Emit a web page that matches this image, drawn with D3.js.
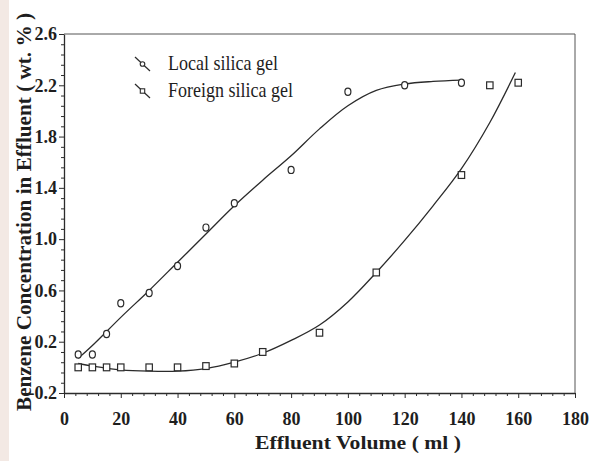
<!DOCTYPE html>
<html>
<head>
<meta charset="utf-8">
<script src="https://cdn.jsdelivr.net/npm/d3@7"></script>
<style>
  body { margin: 0; background: #fff; }
  svg { display: block; }
  text { font-family: "Liberation Serif", "Times New Roman", serif; fill: #1e1e1e; }
</style>
</head>
<body>
<div id="root"></div>
<script>
// measured points
const localX = [5, 10, 15, 20, 30, 40, 50, 60, 80, 100, 120, 140];
const localY = [0.10, 0.10, 0.26, 0.50, 0.58, 0.79, 1.09, 1.28, 1.54, 2.15, 2.20, 2.22];
const foreignX = [5, 10, 15, 20, 30, 40, 50, 60, 70, 90, 110, 140, 150, 160];
const foreignY = [0.0, 0.0, 0.0, 0.0, 0.0, 0.0, 0.01, 0.03, 0.12, 0.27, 0.74, 1.50, 2.20, 2.22];

// fitted curves as drawn in the figure
const localFitX = [5, 10, 20, 30, 40, 50, 60, 70, 80, 90, 100, 110, 120, 130, 140];
const localFitY = [0.07, 0.17, 0.39, 0.60, 0.82, 1.04, 1.26, 1.46, 1.65, 1.86, 2.04, 2.16, 2.21, 2.23, 2.24];
const foreignFitX = [5, 10, 20, 30, 40, 50, 60, 70, 80, 90, 100, 110, 120, 130, 140, 150, 159];
const foreignFitY = [0.03, 0.01, -0.02, -0.03, -0.03, -0.01, 0.04, 0.11, 0.21, 0.33, 0.51, 0.74, 0.99, 1.26, 1.55, 1.91, 2.30];

const xTicks = [0, 20, 40, 60, 80, 100, 120, 140, 160, 180];
const xTickLabels = ["0", "20", "40", "60", "80", "100", "120", "140", "160", "180"];
const yTicks = [-0.2, 0.2, 0.6, 1.0, 1.4, 1.8, 2.2, 2.6];
const yTickLabels = ["-0.2", "0.2", "0.6", "1.0", "1.4", "1.8", "2.2", "2.6"];
const seriesNames = ["Local silica gel", "Foreign silica gel"];

const width = 594, height = 461;
const plotLeft = 64, plotRight = 575, plotTop = 34, plotBottom = 393;
const ink = "#2b2b2b";

const svg = d3.select("#root").append("svg")
  .attr("width", width)
  .attr("height", height);

// faint scan edge on the left
svg.append("rect").attr("x", 0).attr("y", 0).attr("width", 9).attr("height", height)
  .attr("fill", "#f3e9e4");

const x = d3.scaleLinear().domain([0, 180]).range([plotLeft, plotRight]);
const y = d3.scaleLinear().domain([-0.2, 2.6]).range([plotBottom, plotTop]);

// minor ticks
const xMinor = d3.range(0, 181, 4).filter(v => v % 20 !== 0);
const yMinor = d3.range(-0.2, 2.6, 0.08).map(v => +v.toFixed(2)).filter(v => !yTicks.some(t => Math.abs(t - v) < 1e-6));

svg.append("g")
  .attr("transform", `translate(0,${plotBottom})`)
  .call(d3.axisBottom(x).tickValues(xMinor).tickSize(3).tickFormat(""))
  .call(g => g.select(".domain").remove())
  .selectAll("line").attr("stroke", ink);

svg.append("g")
  .attr("transform", `translate(${plotLeft},0)`)
  .call(d3.axisLeft(y).tickValues(yMinor).tickSize(3).tickFormat(""))
  .call(g => g.select(".domain").remove())
  .selectAll("line").attr("stroke", ink);

const xAxis = svg.append("g")
  .attr("transform", `translate(0,${plotBottom})`)
  .call(d3.axisBottom(x).tickValues(xTicks).tickSizeInner(5).tickSizeOuter(0).tickPadding(14)
    .tickFormat((d, i) => xTickLabels[i]));
xAxis.select(".domain").attr("stroke", ink).attr("stroke-width", 1.3);
xAxis.selectAll("line").attr("stroke", ink);
xAxis.selectAll("text")
  .attr("font-family", "Liberation Serif")
  .style("font-size", "18px")
  .style("font-weight", "bold")
  .attr("fill", "#1e1e1e");

const yAxis = svg.append("g")
  .attr("transform", `translate(${plotLeft},0)`)
  .call(d3.axisLeft(y).tickValues(yTicks).tickSizeInner(5).tickSizeOuter(0).tickPadding(2)
    .tickFormat((d, i) => yTickLabels[i]));
yAxis.select(".domain").attr("stroke", ink).attr("stroke-width", 1.3);
yAxis.selectAll("line").attr("stroke", ink);
yAxis.selectAll("text")
  .attr("font-family", "Liberation Serif")
  .style("font-size", "18px")
  .style("font-weight", "bold")
  .attr("fill", "#1e1e1e");

// top and right frame
svg.append("path")
  .attr("d", `M${x(0)},${y(2.6)}H${x(180)}V${y(-0.2)}`)
  .attr("fill", "none")
  .attr("stroke", "#555")
  .attr("stroke-width", 1);

const line = d3.line()
  .x(d => x(d[0]))
  .y(d => y(d[1]))
  .curve(d3.curveCatmullRom.alpha(0.5));

svg.append("path")
  .datum(localFitX.map((v, i) => [v, localFitY[i]]))
  .attr("d", line)
  .attr("fill", "none")
  .attr("stroke", ink)
  .attr("stroke-width", 1.3);

svg.append("path")
  .datum(foreignFitX.map((v, i) => [v, foreignFitY[i]]))
  .attr("d", line)
  .attr("fill", "none")
  .attr("stroke", ink)
  .attr("stroke-width", 1.3);

svg.append("g").selectAll("ellipse")
  .data(localX.map((v, i) => [v, localY[i]]))
  .enter().append("ellipse")
  .attr("cx", d => x(d[0]))
  .attr("cy", d => y(d[1]))
  .attr("rx", 3)
  .attr("ry", 3.6)
  .attr("fill", "#fff")
  .attr("stroke", ink)
  .attr("stroke-width", 1.2);

svg.append("g").selectAll("rect")
  .data(foreignX.map((v, i) => [v, foreignY[i]]))
  .enter().append("rect")
  .attr("x", d => x(d[0]) - 3.2)
  .attr("y", d => y(d[1]) - 3.4)
  .attr("width", 6.4)
  .attr("height", 6.8)
  .attr("fill", "#fff")
  .attr("stroke", ink)
  .attr("stroke-width", 1.2);

// legend
const legend = svg.append("g");
seriesNames.forEach((name, i) => {
  const gy = 63 + i * 27;
  legend.append("line")
    .attr("x1", 135).attr("y1", gy - 6)
    .attr("x2", 150).attr("y2", gy + 8)
    .attr("stroke", ink).attr("stroke-width", 1.2);
  if (i === 0) {
    legend.append("circle").attr("cx", 142.5).attr("cy", gy + 1).attr("r", 2.3)
      .attr("fill", "#fff").attr("stroke", ink).attr("stroke-width", 1.1);
  } else {
    legend.append("rect").attr("x", 140.3).attr("y", gy - 1.2).attr("width", 4.4).attr("height", 4.4)
      .attr("fill", "#fff").attr("stroke", ink).attr("stroke-width", 1.1);
  }
  legend.append("text")
    .attr("x", 168)
    .attr("y", gy + 7)
    .attr("textLength", i === 0 ? 110 : 125)
    .attr("lengthAdjust", "spacingAndGlyphs")
    .style("font-size", "21px")
    .style("font-weight", "500")
    .text(name);
});

// axis titles
svg.append("text")
  .attr("x", 358)
  .attr("y", 449)
  .attr("text-anchor", "middle")
  .attr("textLength", 206)
  .attr("lengthAdjust", "spacingAndGlyphs")
  .style("font-size", "18px")
  .style("font-weight", "bold")
  .text("Effluent Volume ( ml )");

svg.append("text")
  .attr("transform", "translate(31,212) rotate(-90)")
  .attr("text-anchor", "middle")
  .attr("textLength", 398)
  .attr("lengthAdjust", "spacingAndGlyphs")
  .style("font-size", "20px")
  .style("font-weight", "bold")
  .text("Benzene Concentration in Effluent ( wt. % )");
</script>
</body>
</html>
